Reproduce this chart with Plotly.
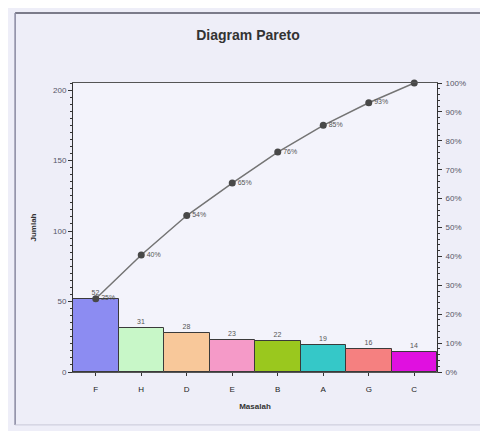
import plotly.graph_objects as go

categories = ["F", "H", "D", "E", "B", "A", "G", "C"]
counts = [52, 31, 28, 23, 22, 19, 16, 14]
bar_colors = ["#8c8cf2", "#c8f7c8", "#f8c89a", "#f59ac8", "#9ac81e", "#35c8c8", "#f58080", "#e010e0"]
pct_ticks = [0, 0.1, 0.2, 0.3, 0.4, 0.5, 0.6, 0.7, 0.8, 0.9, 1.0]
pct_ticklabels = ["0%", "10%", "20%", "30%", "40%", "50%", "60%", "70%", "80%", "90%", "100%"]
left_ticks = [0, 50, 100, 150, 200]

total = sum(counts)
cum = []
s = 0
for c in counts:
    s += c
    cum.append(s)
cum_labels = [f"{round(100 * v / total)}%" for v in cum]
point_labels = cum_labels[:-1] + [""]

font_fam = "Liberation Sans, Arial, sans-serif"
tick_col = "#555566"

fig = go.Figure()
fig.add_trace(go.Bar(
    x=categories, y=counts,
    marker=dict(color=bar_colors, line=dict(color="#3a3a3a", width=1)),
    width=1.0,
    text=[str(v) for v in counts], textposition="outside",
    textfont=dict(size=7, color="#555555", family=font_fam),
    cliponaxis=False, showlegend=False,
))
fig.add_trace(go.Scatter(
    x=categories, y=cum, mode="lines+markers+text",
    line=dict(color="#747474", width=1.5),
    marker=dict(symbol="circle", size=7, color="#484848"),
    text=point_labels, textposition="middle right",
    textfont=dict(size=7, color="#555555", family=font_fam),
    cliponaxis=False, showlegend=False,
))
# invisible trace to activate right axis
fig.add_trace(go.Scatter(x=categories, y=[None] * len(categories), yaxis="y2",
                         showlegend=False, hoverinfo="skip"))

fig.update_layout(
    width=480, height=423,
    margin=dict(l=65, r=51, t=75, b=59),
    paper_bgcolor="#eeeef8", plot_bgcolor="#f3f3fb",
    font=dict(family=font_fam, color="#444444"),
    title=dict(text="<b>Diagram Pareto</b>", x=0.5, xanchor="center", y=0.936, yanchor="middle",
               font=dict(size=14, color="#333333", family=font_fam)),
    bargap=0,
    xaxis=dict(showline=True, linecolor="#555555", linewidth=1, mirror=True,
               ticks="outside", ticklen=3, tickcolor="#333333",
               ticklabelstandoff=6,
               tickfont=dict(size=8, color="#222222"),
               title=dict(text="<b>Masalah</b>", font=dict(size=8, color="#333333"), standoff=10),
               showgrid=False, range=[-0.5, 7.5]),
    yaxis=dict(range=[0, total], tickvals=left_ticks, showgrid=False,
               showline=True, linecolor="#333333", linewidth=1,
               ticks="outside", ticklen=4, tickcolor="#333333",
               minor=dict(dtick=5, ticks="outside", ticklen=2, tickcolor="#333333"),
               tickfont=dict(size=8, color=tick_col), zeroline=False,
               title=dict(text="<b>Jumlah</b>", font=dict(size=8, color="#333333"), standoff=15)),
    yaxis2=dict(range=[0, 1], overlaying="y", side="right",
                tickvals=pct_ticks, ticktext=pct_ticklabels, showgrid=False,
                showline=True, linecolor="#333333", linewidth=1,
                ticks="outside", ticklen=4, tickcolor="#333333",
                ticklabelstandoff=2,
                minor=dict(dtick=0.02, ticks="outside", ticklen=2, tickcolor="#333333"),
                tickfont=dict(size=8, color=tick_col), zeroline=False),
    shapes=[
        dict(type="line", xref="paper", yref="paper", x0=-0.159, x1=1.2, y0=1.242, y1=1.242,
             line=dict(color="#555566", width=1.5)),
        dict(type="line", xref="paper", yref="paper", x0=-0.159, x1=-0.159, y0=1.242, y1=-0.183,
             line=dict(color="#8888a0", width=1.5)),
        dict(type="line", xref="paper", yref="paper", x0=-0.159, x1=1.2, y0=-0.183, y1=-0.183,
             line=dict(color="#c8c8d8", width=1)),
    ],
)

fig.write_html("out.html")
